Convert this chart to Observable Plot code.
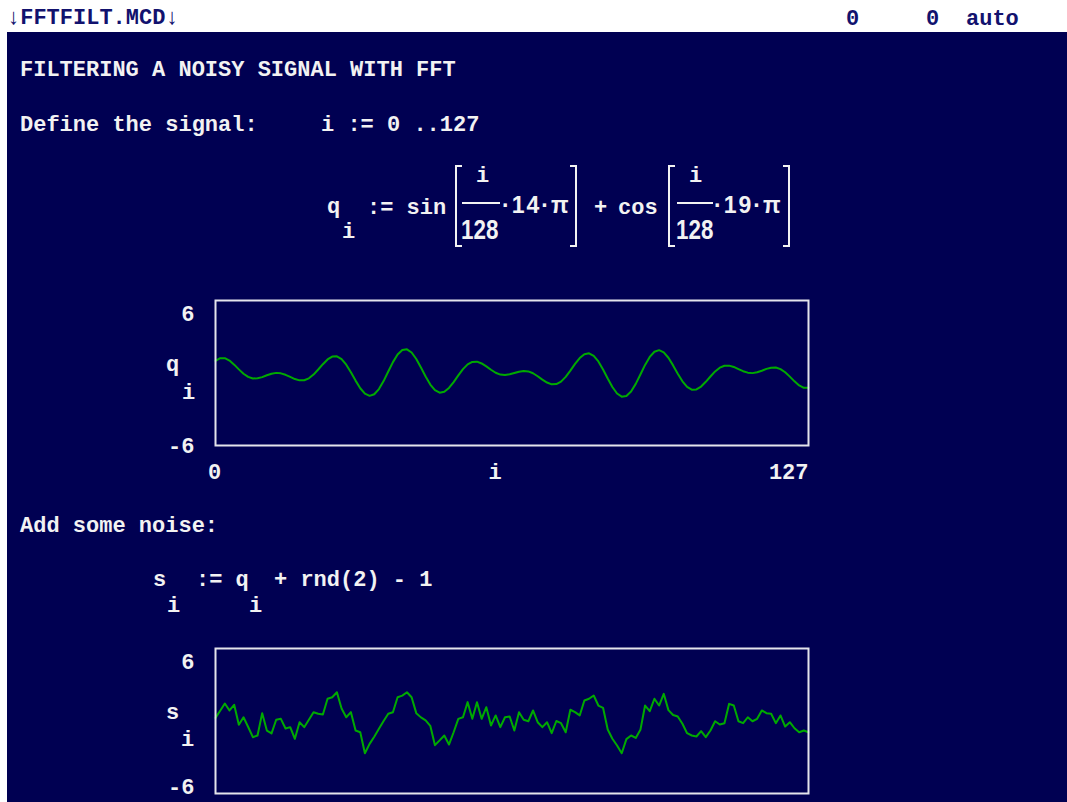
<!DOCTYPE html>
<html><head><meta charset="utf-8">
<script src="https://cdn.jsdelivr.net/npm/d3@7"></script>
<script src="https://cdn.jsdelivr.net/npm/@observablehq/plot@0.6"></script>
<style>
html,body{margin:0;padding:0;overflow:hidden;background:#ffffff;}
#page{position:relative;width:1067px;height:802px;overflow:hidden;background:#ffffff;}
#screen{position:absolute;left:7px;top:32px;right:0;bottom:0;background:#000052;}
.t{position:absolute;white-space:pre;font-family:"Liberation Mono","DejaVu Sans Mono",monospace;font-weight:bold;font-size:22px;line-height:22px;color:#f2f2f2;}
.bar{color:#12126e;}
.sans{font-family:"Liberation Sans",Arial,sans-serif;font-weight:bold;}
.br{position:absolute;border-color:#f2f2f2;border-style:solid;border-width:2px 0 2px 0;box-sizing:border-box;}
.fb{position:absolute;height:2px;background:#f2f2f2;}
</style></head><body>
<div id="page"><div id="screen"></div></div>
<script>
// ---- data ----
const idx = d3.range(0, 128); // i := 0 ..127
const q = [1.00,1.23,1.23,1.03,0.69,0.30,-0.06,-0.32,-0.45,-0.44,
-0.34,-0.19,-0.06,0.01,-0.03,-0.15,-0.32,-0.50,-0.61,-0.60,
-0.44,-0.13,0.29,0.73,1.12,1.36,1.38,1.15,0.69,0.06,
-0.63,-1.26,-1.71,-1.89,-1.76,-1.33,-0.67,0.12,0.90,1.53,
1.90,1.96,1.70,1.16,0.46,-0.29,-0.96,-1.42,-1.63,-1.56,
-1.24,-0.75,-0.20,0.32,0.71,0.92,0.94,0.79,0.55,0.27,
0.02,-0.13,-0.17,-0.11,0.00,0.11,0.17,0.13,-0.02,-0.27,
-0.55,-0.79,-0.94,-0.92,-0.71,-0.32,0.20,0.75,1.24,1.56,
1.63,1.42,0.96,0.29,-0.46,-1.16,-1.70,-1.96,-1.90,-1.53,
-0.90,-0.12,0.67,1.33,1.76,1.89,1.71,1.26,0.63,-0.06,
-0.69,-1.15,-1.38,-1.36,-1.12,-0.73,-0.29,0.13,0.44,0.60,
0.61,0.50,0.32,0.15,0.03,-0.01,0.06,0.19,0.34,0.44,
0.45,0.32,0.06,-0.30,-0.69,-1.03,-1.23,-1.23];
const s = [0.26,0.85,1.45,0.87,1.34,-0.31,0.31,-0.50,-1.34,-1.20,
0.65,-0.79,-1.03,0.10,0.18,-0.62,-0.51,-1.47,-0.10,-0.51,
0.10,0.73,0.60,0.54,1.84,1.97,2.38,1.03,0.31,0.73,
-0.79,-0.93,-2.67,-1.89,-1.30,-0.65,0.00,0.60,0.73,1.97,
2.10,2.38,1.97,0.65,0.30,0.05,-0.40,-2.00,-1.60,-1.20,
-1.95,-0.93,0.18,0.31,1.56,0.18,1.56,0.18,1.14,-0.37,
0.46,-0.51,0.31,0.37,-0.79,0.73,0.10,-0.02,0.87,-0.10,
-0.51,-0.10,-1.01,0.00,-0.18,-0.93,0.93,0.73,0.46,1.70,
1.84,2.11,1.28,1.09,-0.70,-1.47,-2.03,-2.67,-1.50,-1.20,
-1.40,-0.73,1.28,0.81,1.84,1.28,2.25,0.90,0.50,0.37,
-0.23,-1.01,-1.20,-1.28,-0.84,-1.34,-0.79,-0.02,-0.29,-0.18,
1.42,1.28,-0.02,-0.18,0.31,-0.02,0.18,0.87,0.65,0.60,
-0.18,0.46,-0.46,-0.10,-0.60,-0.93,-0.79,-0.93];
const yTicks = [6, -6];
const xTicks = [0, 127];
const xLabel = "i";

// ---- styles ----
const GREEN = "#00aa00", FRAME = "#e4e4ec", INK = "#f2f2f2";
const FONT = {fontFamily: '"Liberation Mono","DejaVu Sans Mono",monospace', fontSize: 22, fontWeight: "bold", fill: INK, lineAnchor: "middle"};
const page = document.getElementById("page");

// ---- text helpers ----
function put(text, x, baseline, cls = "", extra = {}) {
  const d = document.createElement("div");
  d.className = "t " + cls;
  d.textContent = text;
  const fs = extra.fs || 22;
  const k = cls.includes("sans") ? 0.8465 : 0.7665;
  d.style.left = x + "px";
  d.style.top = (baseline - k * fs) + "px";
  if (extra.fs) { d.style.fontSize = fs + "px"; d.style.lineHeight = fs + "px"; }
  if (extra.ls) d.style.letterSpacing = extra.ls + "px";
  if (extra.sx) { d.style.transform = `scaleX(${extra.sx})`; d.style.transformOrigin = "0 0"; }
  page.appendChild(d);
}
function bracket(x, side) {
  const d = document.createElement("div");
  d.className = "br";
  d.style.left = x + "px"; d.style.top = "165px"; d.style.width = "7px"; d.style.height = "82px";
  if (side === "l") d.style.borderLeftWidth = "2.5px"; else d.style.borderRightWidth = "2.5px";
  page.appendChild(d);
}
function fbar(x, w) {
  const d = document.createElement("div");
  d.className = "fb"; d.style.left = x + "px"; d.style.top = "202px"; d.style.width = w + "px";
  page.appendChild(d);
}

// header bar
put("\u2193FFTFILT.MCD\u2193", 7, 25, "bar");
put("0", 846, 26, "bar");
put("0", 926, 26, "bar");
put("auto", 966, 26, "bar");

put("FILTERING A NOISY SIGNAL WITH FFT", 20, 77);
put("Define the signal:", 20, 132);
put("i := 0 ..127", 321, 132);

// q_i := sin[i/128 * 14 pi] + cos[i/128 * 19 pi]
put("q", 327, 214);
put("i", 342, 239);
put(":= sin", 367, 215);
bracket(455, "l");
put("i", 476, 183);
fbar(462, 38);
put("128", 461, 240, "sans", {fs: 28, sx: 0.8});
put("\u00b714\u00b7\u03c0", 502, 213, "sans", {fs: 23, ls: 2});
bracket(570, "r");
put("+", 594, 215);
put("cos", 618, 215);
bracket(668, "l");
put("i", 689, 183);
fbar(677, 36);
put("128", 676, 240, "sans", {fs: 28, sx: 0.8});
put("\u00b719\u00b7\u03c0", 714, 213, "sans", {fs: 23, ls: 2});
bracket(783, "r");

// axis label of chart 1
put("q", 166, 372);
put("i", 182, 400);

put("Add some noise:", 20, 533);
put("s", 153, 587);
put("i", 167, 613);
put(":= q", 196, 587);
put("i", 249, 613);
put("+ rnd(2) - 1", 274, 587);

// axis label of chart 2
put("s", 166, 720);
put("i", 181, 747);

// ---- charts ----
function chart(values, left, top, topDy, botDy, showX) {
  const data = idx.map((i, k) => ({i, v: values[k]}));
  const marks = [
    Plot.line(data, {x: "i", y: "v", stroke: GREEN, strokeWidth: 2}),
    Plot.frame({stroke: FRAME, strokeWidth: 2}),
    Plot.text([yTicks[0]], {x: xTicks[0], y: d => d, text: d => String(d), textAnchor: "end", dx: -21, dy: topDy, ...FONT}),
    Plot.text([yTicks[1]], {x: xTicks[0], y: d => d, text: d => String(d), textAnchor: "end", dx: -21, dy: botDy, ...FONT})
  ];
  if (showX) {
    marks.push(
      Plot.text([xTicks[0]], {x: d => d, y: yTicks[1], text: d => String(d), dx: -1, dy: 26.5, ...FONT}),
      Plot.text([xTicks[1]], {x: d => d, y: yTicks[1], text: d => String(d), textAnchor: "end", dx: 0, dy: 26.5, ...FONT}),
      Plot.text([xLabel], {frameAnchor: "bottom", text: d => d, dx: -17, dy: 26.5, ...FONT})
    );
  }
  const svg = Plot.plot({
    width: 700, height: 215,
    marginLeft: 75, marginRight: 32, marginTop: 20, marginBottom: 50,
    x: {domain: [0, 127], axis: null},
    y: {domain: [-6, 6], axis: null},
    style: {background: "transparent", color: INK, overflow: "visible"},
    marks
  });
  svg.style.position = "absolute";
  svg.style.left = left + "px";
  svg.style.top = top + "px";
  page.appendChild(svg);
}
chart(q, 140, 280, 13, 0, true);
chart(s, 140, 628, 13, -7, false);
</script>
</body></html>
